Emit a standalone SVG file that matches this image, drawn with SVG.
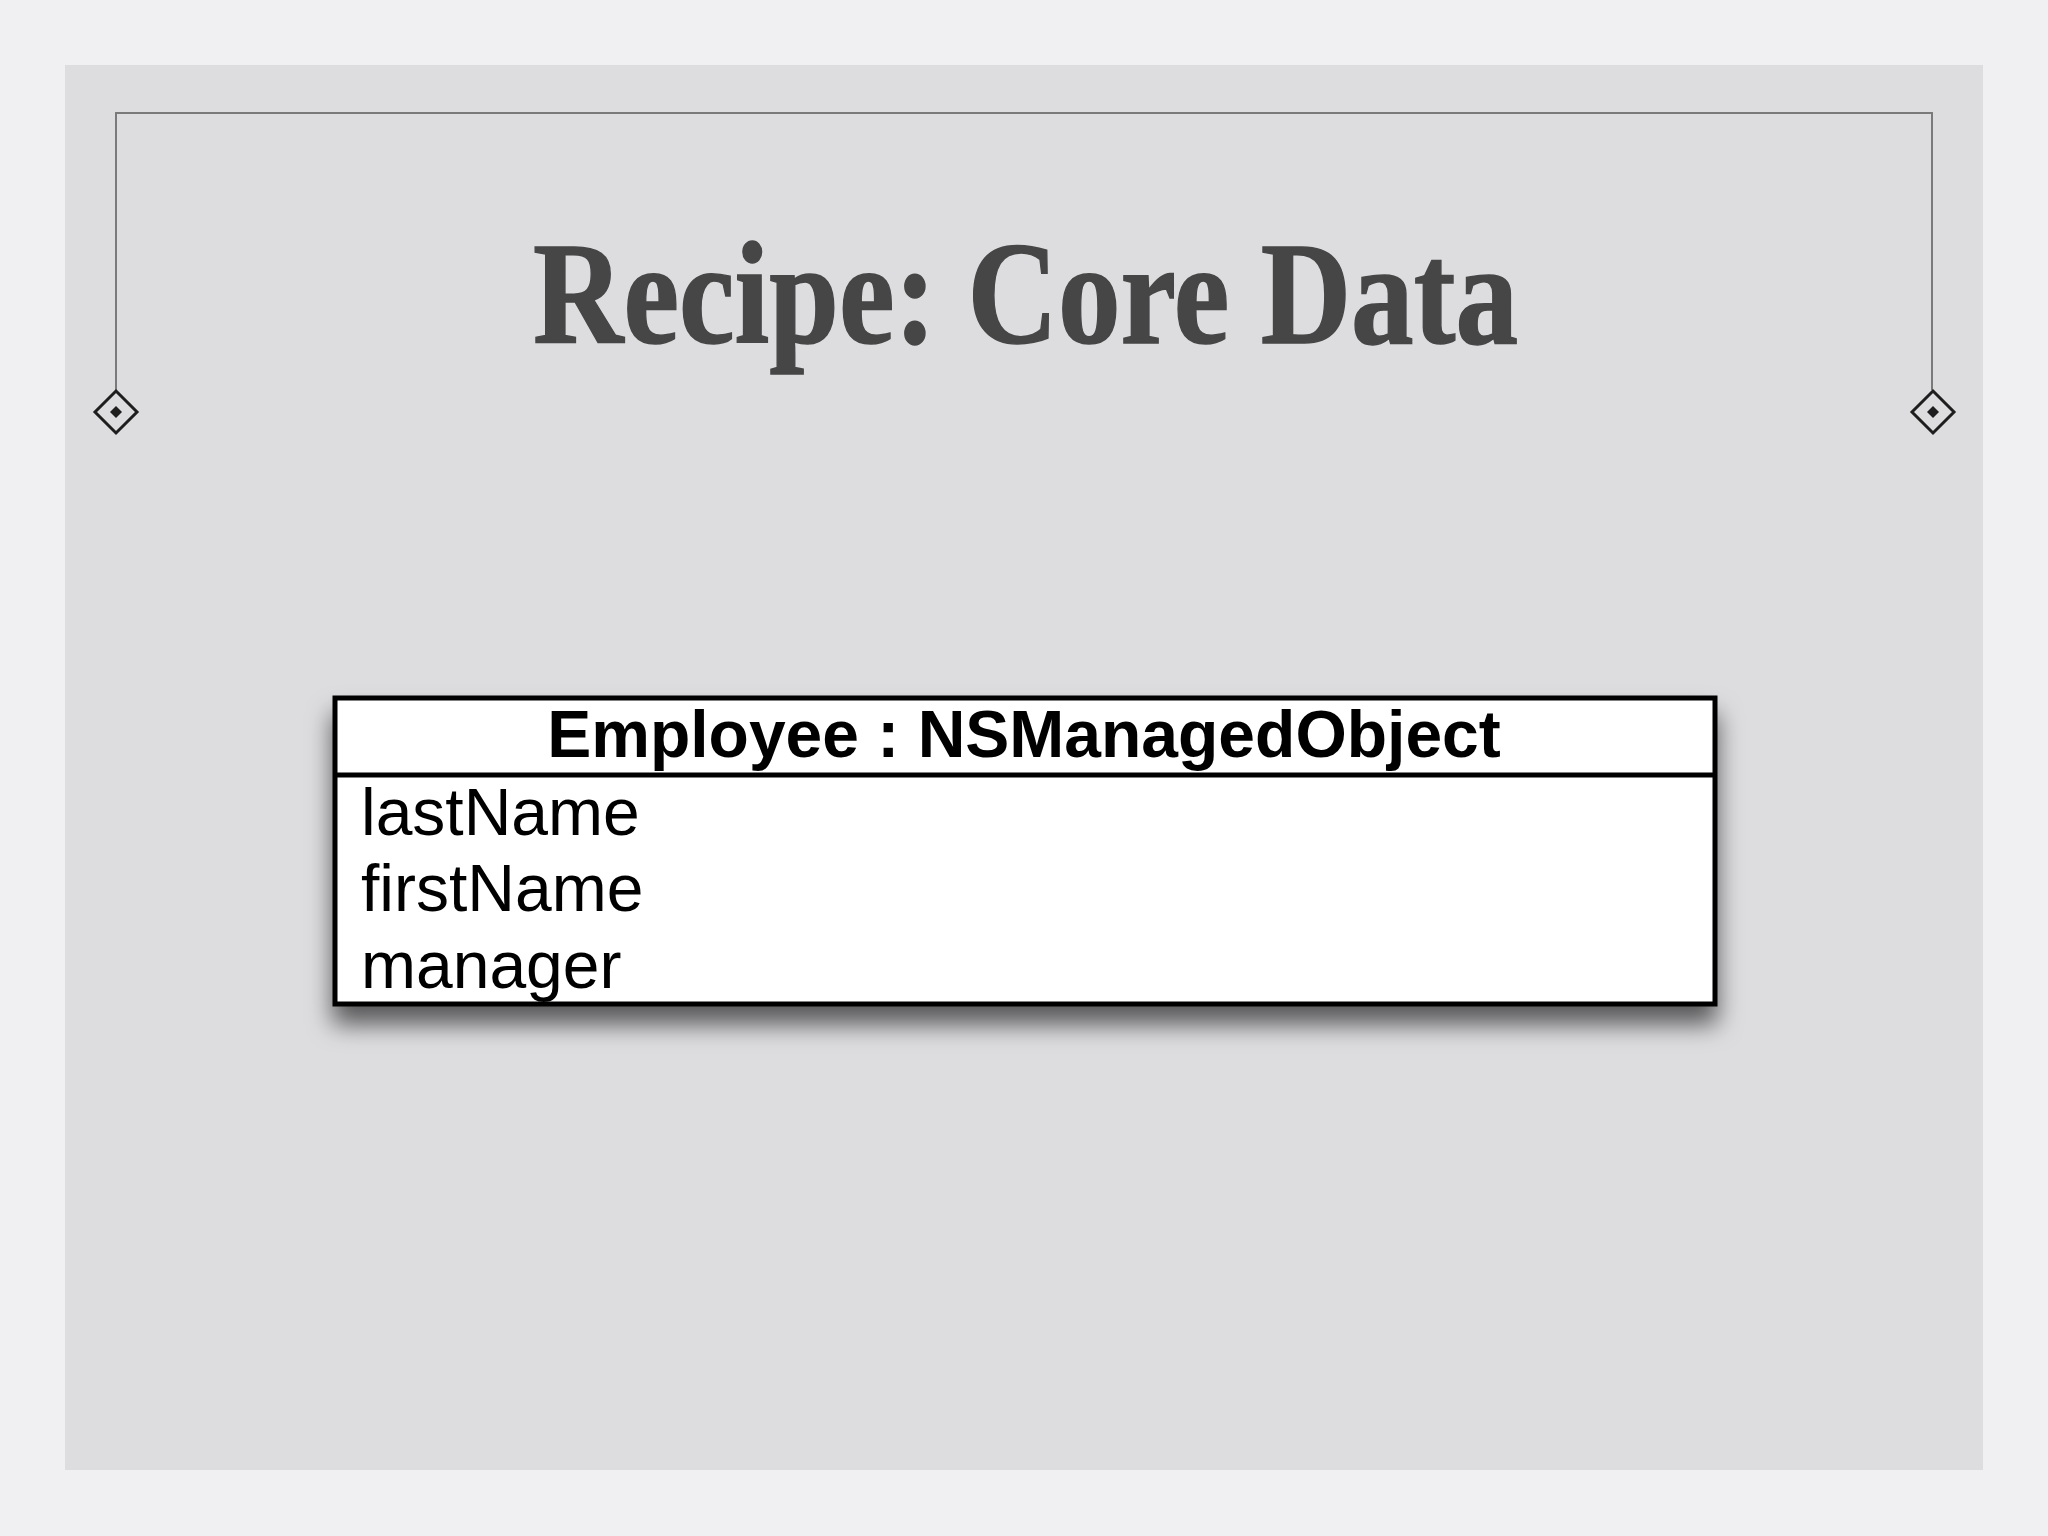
<svg xmlns="http://www.w3.org/2000/svg" width="2048" height="1536" viewBox="0 0 2048 1536">
  <defs>
    <filter id="shadow" x="-10%" y="-20%" width="120%" height="160%">
      <feDropShadow dx="0" dy="18" stdDeviation="12" flood-color="#000" flood-opacity="0.6"/>
    </filter>
    <g id="ornament">
      <polygon points="0,-21 21,0 0,21 -21,0" fill="none" stroke="#1e1e1e" stroke-width="3"/>
      <polygon points="0,-6 6,0 0,6 -6,0" fill="#1e1e1e"/>
    </g>
  </defs>
  <style>
    .frame { fill: none; stroke: #7a7a7a; stroke-width: 2; }
    .title { font-family: "Liberation Serif", "DejaVu Serif", serif; font-weight: bold; font-size: 146px; fill: #464646; stroke: #464646; stroke-width: 1.5; }
    .head { font-family: "Liberation Sans", Arial, sans-serif; font-weight: bold; font-size: 66px; fill: #000; }
    .attr { font-family: "Liberation Sans", Arial, sans-serif; font-size: 66px; fill: #000; }
    .box { fill: #fff; stroke: #000; stroke-width: 5; }
  </style>

  <rect x="0" y="0" width="2048" height="1536" fill="#f0f0f2"/>
  <rect x="65" y="65" width="1918" height="1405" fill="#dddde0"/>

  <g id="frame">
    <polyline class="frame" points="116,390 116,113 1932,113 1932,390"/>
    <use href="#ornament" x="116" y="412"/>
    <use href="#ornament" x="1933" y="412"/>
  </g>

  <g id="title">
    <text class="title" x="533" y="343" textLength="985" lengthAdjust="spacingAndGlyphs">Recipe: Core Data</text>
  </g>

  <g id="employee">
    <rect class="box" x="335" y="698" width="1380" height="306" filter="url(#shadow)"/>
    <line x1="335" y1="775" x2="1715" y2="775" stroke="#000" stroke-width="5"/>
    <text class="head" x="1024" y="757" text-anchor="middle">Employee : NSManagedObject</text>
    <text class="attr" x="361" y="835">lastName</text>
    <text class="attr" x="361" y="911">firstName</text>
    <text class="attr" x="361" y="988">manager</text>
  </g>

  <g id="connectors"/>
</svg>
